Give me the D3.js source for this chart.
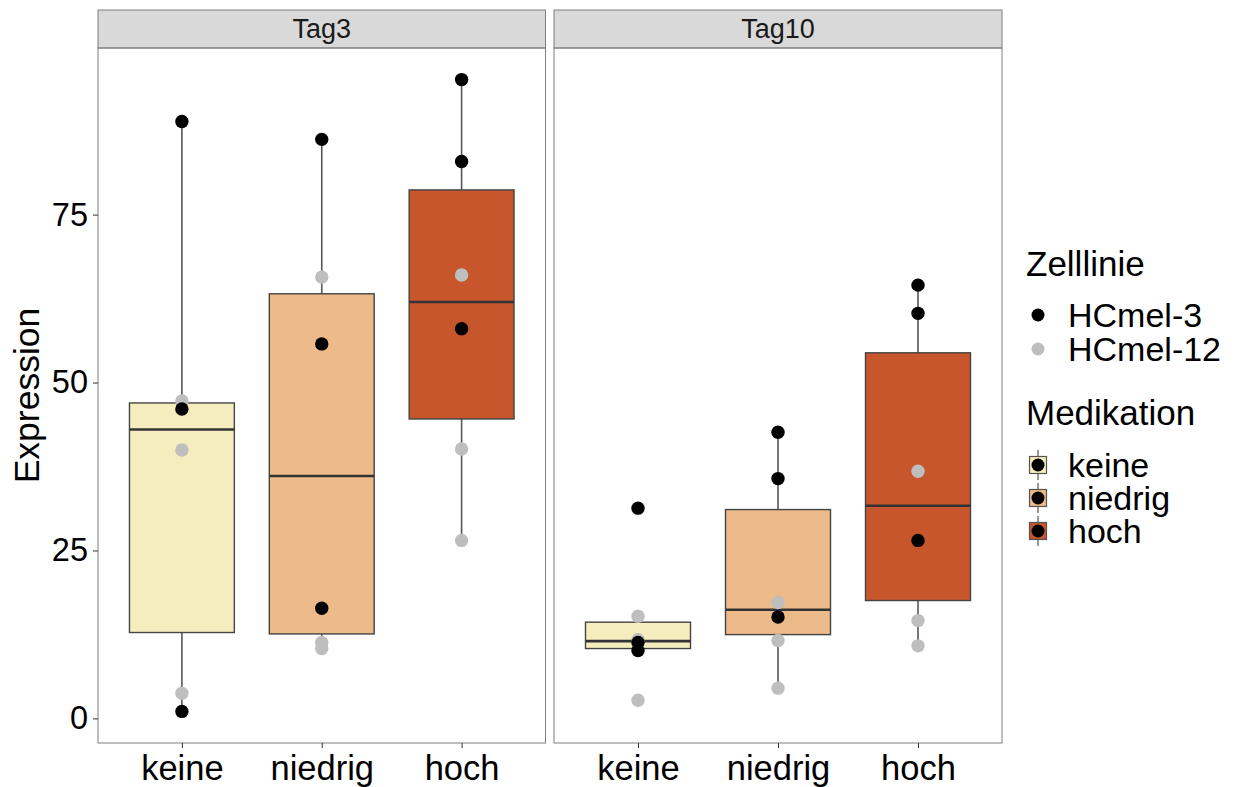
<!DOCTYPE html>
<html>
<head>
<meta charset="utf-8">
<script src="https://cdn.jsdelivr.net/npm/d3@7"></script>
<style>
  body { margin: 0; background: #fff; }
  text { font-family: "Liberation Sans", Arial, sans-serif; }
</style>
</head>
<body>
<svg id="chart" width="1241" height="787"></svg>
<script>
const days = ['Tag3', 'Tag10']
const medikation = ['keine', 'niedrig', 'hoch']
const zelllinie = ['HCmel-3', 'HCmel-12']
const yTicks = [0, 25, 50, 75]

// values per day, per medikation (3 replicates each)
const hcmel3 = {
  Tag3:  { keine: [88.85, 46.06, 1.04], niedrig: [86.2, 55.75, 16.4], hoch: [95.1, 82.9, 58.0] },
  Tag10: { keine: [31.3, 11.3, 10.1],   niedrig: [42.6, 35.7, 15.1],  hoch: [64.5, 60.3, 26.5] }
}
const hcmel12 = {
  Tag3:  { keine: [47.26, 39.95, 3.73], niedrig: [65.7, 11.3, 10.4], hoch: [66.0, 40.1, 26.5] },
  Tag10: { keine: [15.2, 11.7, 2.7],    niedrig: [17.25, 11.6, 4.5], hoch: [36.8, 14.56, 10.8] }
}

const fillColor = d3.scaleOrdinal().domain(medikation).range(['#F5EDBD', '#EDBA89', '#C8562C'])
const pointColor = d3.scaleOrdinal().domain(zelllinie).range(['#000000', '#BEBEBE'])

// flat table built from the arrays
const rows = []
days.forEach(day => {
  medikation.forEach(m => {
    hcmel12[day][m].forEach(v => rows.push({ day, med: m, line: 'HCmel-12', value: v }))
    hcmel3[day][m].forEach(v => rows.push({ day, med: m, line: 'HCmel-3', value: v }))
  })
})

const svg = d3.select('#chart')
const panelTop = 48, panelBottom = 743
const panels = [{ day: 'Tag3', x0: 98, x1: 545.5 }, { day: 'Tag10', x0: 554, x1: 1002 }]

const ext = d3.extent(rows, d => d.value)
const pad = (ext[1] - ext[0]) * 0.05
const y = d3.scaleLinear().domain([ext[0] - pad, ext[1] + pad]).range([panelBottom, panelTop])

function boxStats(vals) {
  const s = vals.slice().sort(d3.ascending)
  const q1 = d3.quantile(s, 0.25), med = d3.quantile(s, 0.5), q3 = d3.quantile(s, 0.75)
  const iqr = q3 - q1
  const lo = d3.min(s.filter(v => v >= q1 - 1.5 * iqr))
  const hi = d3.max(s.filter(v => v <= q3 + 1.5 * iqr))
  return { q1, med, q3, lo, hi }
}

panels.forEach((p, pi) => {
  const x = d3.scalePoint().domain(medikation).range([p.x0, p.x1]).padding(0.6)
  const bw = x.step() * 0.75
  const g = svg.append('g')

  // strip
  g.append('rect').attr('x', p.x0).attr('y', 10).attr('width', p.x1 - p.x0).attr('height', panelTop - 10)
    .attr('fill', '#D9D9D9').attr('stroke', '#7F7F7F').attr('stroke-width', 1)
  g.append('text').attr('x', (p.x0 + p.x1) / 2).attr('y', 38).attr('text-anchor', 'middle')
    .attr('font-size', 27).attr('fill', '#1A1A1A').text(p.day)

  // boxes
  medikation.forEach(m => {
    const vals = rows.filter(d => d.day === p.day && d.med === m).map(d => d.value)
    const st = boxStats(vals)
    const cx = x(m)
    g.append('line').attr('x1', cx).attr('x2', cx).attr('y1', y(st.q3)).attr('y2', y(st.hi))
      .attr('stroke', '#555').attr('stroke-width', 1.6)
    g.append('line').attr('x1', cx).attr('x2', cx).attr('y1', y(st.q1)).attr('y2', y(st.lo))
      .attr('stroke', '#555').attr('stroke-width', 1.6)
    g.append('rect').attr('x', cx - bw / 2).attr('y', y(st.q3)).attr('width', bw).attr('height', y(st.q1) - y(st.q3))
      .attr('fill', fillColor(m)).attr('stroke', '#444').attr('stroke-width', 1.4)
    g.append('line').attr('x1', cx - bw / 2).attr('x2', cx + bw / 2).attr('y1', y(st.med)).attr('y2', y(st.med))
      .attr('stroke', '#333').attr('stroke-width', 2.6)
  })

  // points
  g.selectAll('circle.pt').data(rows.filter(d => d.day === p.day)).join('circle')
    .attr('class', 'pt')
    .attr('cx', d => x(d.med)).attr('cy', d => y(d.value)).attr('r', 6.7)
    .attr('fill', d => pointColor(d.line))

  // panel border
  g.append('rect').attr('x', p.x0).attr('y', panelTop).attr('width', p.x1 - p.x0).attr('height', panelBottom - panelTop)
    .attr('fill', 'none').attr('stroke', '#7F7F7F').attr('stroke-width', 1)

  // x axis
  const xa = g.append('g').attr('transform', `translate(0,${panelBottom})`)
    .call(d3.axisBottom(x).tickSize(5).tickPadding(6).tickSizeOuter(0))
  xa.select('.domain').remove()
  xa.selectAll('line').attr('stroke', '#333')
  xa.selectAll('text').attr('font-size', 34.5).attr('fill', '#000').attr('dy', '0.74em')
    .style('font-family', '"Liberation Sans", Arial, sans-serif')

  if (pi === 0) {
    const ya = g.append('g').attr('transform', `translate(${p.x0},0)`)
      .call(d3.axisLeft(y).tickValues(yTicks).tickSize(5).tickPadding(5))
    ya.select('.domain').remove()
    ya.selectAll('line').attr('stroke', '#333')
    ya.selectAll('text').attr('font-size', 32.5).attr('fill', '#000')
      .style('font-family', '"Liberation Sans", Arial, sans-serif')
  }
})

// y title
svg.append('text').attr('transform', `translate(39,${(panelTop + panelBottom) / 2}) rotate(-90)`)
  .attr('text-anchor', 'middle').attr('font-size', 35.5).attr('fill', '#000').text('Expression')

// legend: Zelllinie
const lx = 1038, tx = 1068
svg.append('text').attr('x', 1026).attr('y', 276).attr('font-size', 35).text('Zelllinie')
zelllinie.forEach((z, i) => {
  const cy = 315 + i * 34
  svg.append('circle').attr('cx', lx).attr('cy', cy).attr('r', 6.5).attr('fill', pointColor(z))
  svg.append('text').attr('x', tx).attr('y', cy).attr('dy', '0.36em').attr('font-size', 34).text(z)
})

// legend: Medikation
svg.append('text').attr('x', 1026).attr('y', 425).attr('font-size', 35).text('Medikation')
medikation.forEach((m, i) => {
  const cy = 465 + i * 33
  svg.append('line').attr('x1', lx).attr('x2', lx).attr('y1', cy - 15).attr('y2', cy + 15)
    .attr('stroke', '#555').attr('stroke-width', 1.2)
  svg.append('rect').attr('x', lx - 8.5).attr('y', cy - 8.5).attr('width', 17).attr('height', 17)
    .attr('fill', fillColor(m)).attr('stroke', '#555').attr('stroke-width', 1.2)
  svg.append('circle').attr('cx', lx).attr('cy', cy).attr('r', 6.5).attr('fill', '#000')
  svg.append('text').attr('x', tx).attr('y', cy).attr('dy', '0.36em').attr('font-size', 34).text(m)
})
</script>
</body>
</html>
